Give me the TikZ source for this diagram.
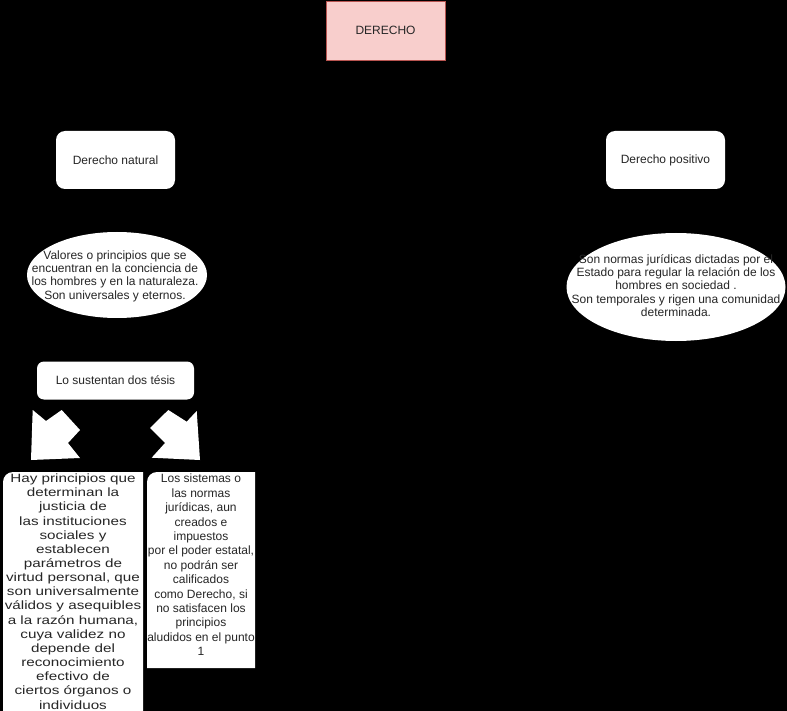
\documentclass[tikz,border=0pt]{standalone}
\usepackage{fontspec}
\setmainfont{Liberation Sans}
\usepackage{xcolor}
\usepackage{graphicx}
\usepackage{tikz}
\usetikzlibrary{shapes.geometric}
\definecolor{rojoclaro}{HTML}{F8CECC}
\definecolor{rojoborde}{HTML}{B85450}

\begin{document}
\begin{tikzpicture}[
    x=1pt, y=-1pt,
    font=\fontsize{12}{14.4}\selectfont, text=black!85,
    titulo/.style={draw=rojoborde, fill=rojoclaro, minimum width=119pt, minimum height=59pt},
    rama/.style={fill=white, rounded corners=9pt, minimum width=119pt, minimum height=58pt},
    nube/.style={ellipse, fill=white, inner sep=0pt},
    tesisbox/.style={fill=white, rounded corners=7pt, minimum width=157pt, minimum height=38pt},
    texto/.style={align=center, inner sep=0pt},
    textonube/.style={texto, font=\fontsize{12}{13.4}\selectfont},
    flecha/.style={fill=white}
]
% fondo negro y marco
\fill[black] (0,0) rectangle (787,711);
\useasboundingbox (0,0) rectangle (787,711);

\node[titulo] (derecho) at (385.5,30.5) {DERECHO};
\node[rama] (natural) at (115.5,160) {Derecho natural};
\node[rama] (positivo) at (665.5,160) {Derecho positivo};

% definiciones
\node[nube, minimum width=180pt, minimum height=86pt] (nubenat) at (117,275) {};
\node[textonube] (valores) at (115,276) {Valores o principios que se\\encuentran en la conciencia de\\los hombres y en la naturaleza.\\Son universales y eternos.};
\node[nube, minimum width=219pt, minimum height=108pt] (nubepos) at (676,287) {};
\node[textonube] (normas) at (676,285.5) {Son normas jurídicas dictadas por el\\Estado para regular la relación de los\\hombres en sociedad .\\Son temporales y rigen una comunidad\\determinada.};

\node[tesisbox] (sustentan) at (115.5,380.5) {Lo sustentan dos tésis};

% flechas de bloque
\fill[flecha] (32.7,410) -- (46,421) -- (61.7,410) -- (80,430) -- (68,443) -- (80,458) -- (31,460) -- cycle;
\fill[flecha] (196.7,411) -- (186.7,421.7) -- (168.3,410) -- (150,428) -- (165,443) -- (151.7,457.7) -- (200,460) -- cycle;

% tesis
\fill[white] (3,720) [rounded corners=10pt] -- (3,472) [sharp corners] -- (143,472) -- (143,720) -- cycle;
\node[texto, font=\fontsize{12}{14.15}\selectfont] (tesisuno) at (73,593) {\scalebox{1.27}[1]{\begin{tabular}{@{}c@{}}Hay principios que\\determinan la\\justicia de\\las instituciones\\sociales y\\establecen\\parámetros de\\virtud personal, que\\son universalmente\\válidos y asequibles\\a la razón humana,\\cuya validez no\\depende del\\reconocimiento\\efectivo de\\ciertos órganos o\\individuos\end{tabular}}};
\fill[white] (147,668) [rounded corners=10pt] -- (147,472) [sharp corners] -- (255,472) -- (255,668) -- cycle;
\node[texto] (tesisdos) at (201,565) {Los sistemas o\\las normas\\jurídicas, aun\\creados e\\impuestos\\por el poder estatal,\\no podrán ser\\calificados\\como Derecho, si\\no satisfacen los\\principios\\aludidos en el punto\\1};
\end{tikzpicture}
\end{document}
